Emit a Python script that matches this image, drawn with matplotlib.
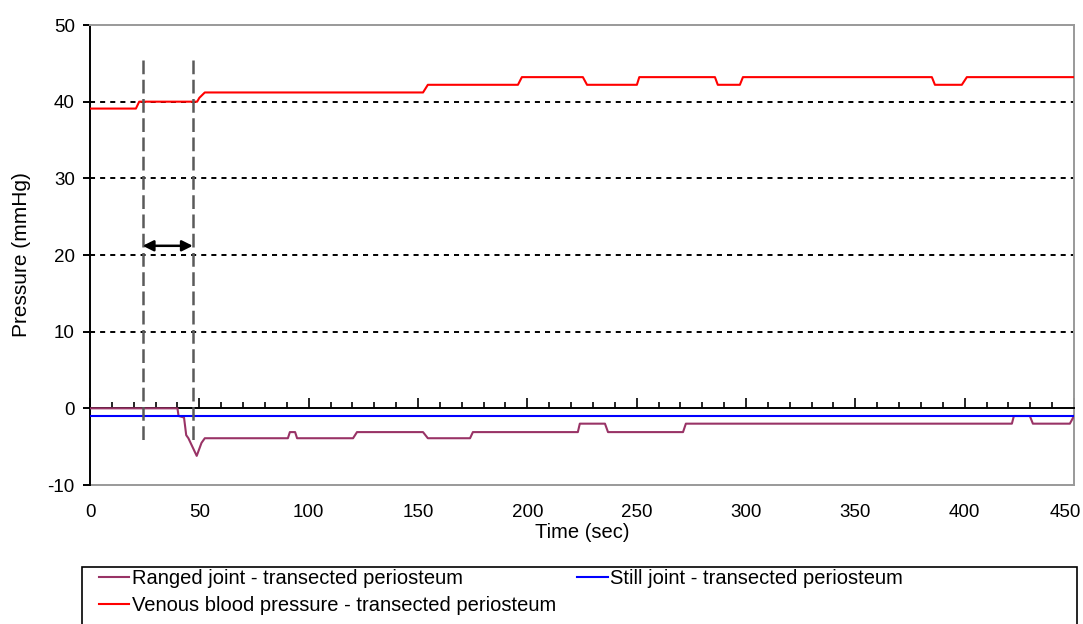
import matplotlib.pyplot as plt
from matplotlib.patches import Rectangle
from matplotlib.ticker import MultipleLocator
from matplotlib.transforms import ScaledTranslation

plt.rcParams['font.family'] = ['Liberation Sans', 'DejaVu Sans']
plt.rcParams['axes.unicode_minus'] = False

# Venous blood pressure (red), corners of the stepped trace
venous_t = [0, 21, 22.5, 49, 50, 52.5, 152.3, 154.5, 195.7, 197.5, 225.4, 227.3,
            250.1, 251.2, 285.8, 287.1, 297.2, 298.6, 385, 386.4, 398.7, 401, 450]
venous_p = [39.1, 39.1, 40, 40, 40.5, 41.2, 41.2, 42.2, 42.2, 43.2, 43.2, 42.2,
            42.2, 43.2, 43.2, 42.2, 42.2, 43.2, 43.2, 42.2, 42.2, 43.2, 43.2]

# Ranged joint (purple)
ranged_t = [0, 40, 40.5, 43, 44, 45, 48.8, 51, 52.5, 90.5, 91.4, 93.8, 94.7,
            120.3, 122.1, 152.3, 154.5, 173.8, 175.1, 223.1, 224, 235.5, 236.9,
            271.2, 272.5, 421.6, 422.5, 429.8, 431.2, 448.1, 450]
ranged_p = [0, 0, -1, -1.2, -3.5, -3.9, -6.2, -4.5, -3.9, -3.9, -3.1, -3.1, -3.9,
            -3.9, -3.1, -3.1, -3.9, -3.9, -3.1, -3.1, -2, -2, -3.1,
            -3.1, -2, -2, -1, -1, -2, -2, -1]

# Still joint (blue)
still_t = [0, 450]
still_p = [-1, -1]

marker_t = [24.1, 47.0]      # dashed event markers
marker_span = [45.4, -4.6]
arrow_y = 21.2

x_major = list(range(0, 451, 50))
y_ticks = [-10, 0, 10, 20, 30, 40, 50]

fig = plt.figure(figsize=(10.83, 6.24), dpi=100)
ax = fig.add_axes([90 / 1083, 1 - 485 / 624, 984 / 1083, 460 / 624])

ax.set_xlim(0, 450)
ax.set_ylim(-10, 50)

# dotted gridlines
for y in y_ticks:
    if y in (-10, 0, 50):
        continue
    ax.axhline(y, color='black', lw=1.4, dashes=(2.6, 2.6), zorder=1)

h_r, = ax.plot(ranged_t, ranged_p, color='#993366', lw=1.5, zorder=3,
               label='Ranged joint - transected periosteum')
h_s, = ax.plot(still_t, still_p, color='#0000ff', lw=1.5, zorder=3.1,
               label='Still joint - transected periosteum')
h_v, = ax.plot(venous_t, venous_p, color='#ff0000', lw=1.5, zorder=3.2,
               label='Venous blood pressure - transected periosteum')

for t in marker_t:
    ax.plot([t, t], marker_span, color='#5a5a5a', lw=1.8, dashes=(5.5, 2.2), zorder=4)

ax.annotate('', xy=(marker_t[1], arrow_y), xytext=(marker_t[0], arrow_y),
            arrowprops=dict(arrowstyle='<|-|>', color='black', lw=1.8,
                            mutation_scale=16, shrinkA=0, shrinkB=0), zorder=5)

# axes frame
for s in ('top', 'right'):
    ax.spines[s].set_color('#999999')
    ax.spines[s].set_linewidth(1.4)
ax.spines['left'].set_color('black')
ax.spines['left'].set_linewidth(1.4)
ax.spines['bottom'].set_position(('data', 0))
ax.spines['bottom'].set_color('black')
ax.spines['bottom'].set_linewidth(1.4)
ax.spines['bottom'].set_zorder(2.5)

ax.set_xticks(x_major)
ax.xaxis.set_minor_locator(MultipleLocator(10))
ax.tick_params(axis='x', which='major', direction='in', length=7, width=1.2,
               labelbottom=False)
ax.tick_params(axis='x', which='minor', direction='in', length=4, width=1.2)

ax.set_yticks(y_ticks)
ax.tick_params(axis='y', direction='out', length=5, width=1.4, labelsize=13.5, pad=6)
ax.set_ylabel('Pressure (mmHg)', fontsize=15, labelpad=12)

# tick labels sit on the bottom frame
sec = ax.secondary_xaxis('bottom')
sec.set_xticks(x_major)
sec.spines['bottom'].set_color('#999999')
sec.spines['bottom'].set_linewidth(1.4)
sec.tick_params(axis='x', length=0, labelsize=13.5, pad=14)
sec.set_xlabel('Time (sec)', fontsize=14.5, labelpad=1)
last = sec.get_xticklabels()[-1]
last.set_transform(last.get_transform() + ScaledTranslation(-0.09, 0, fig.dpi_scale_trans))

# legend below the plot
fig.add_artist(Rectangle((82 / 1083, -0.05), (1077 - 82) / 1083, (624 - 567) / 624 + 0.05,
                         transform=fig.transFigure, fill=False, edgecolor='black', lw=1.2))
leg_kw = dict(loc='upper left', bbox_transform=fig.transFigure, frameon=False,
              fontsize=14.5, handlelength=1.5, handletextpad=0.12,
              borderaxespad=0, borderpad=0.2)
leg1 = ax.legend(handles=[h_r, h_s], ncol=2, columnspacing=5.7,
                 bbox_to_anchor=(95 / 1083, 1 - 565 / 624), **leg_kw)
ax.add_artist(leg1)
ax.legend(handles=[h_v], bbox_to_anchor=(95 / 1083, 1 - 592 / 624), **leg_kw)

fig.savefig('out.png', dpi=100)
